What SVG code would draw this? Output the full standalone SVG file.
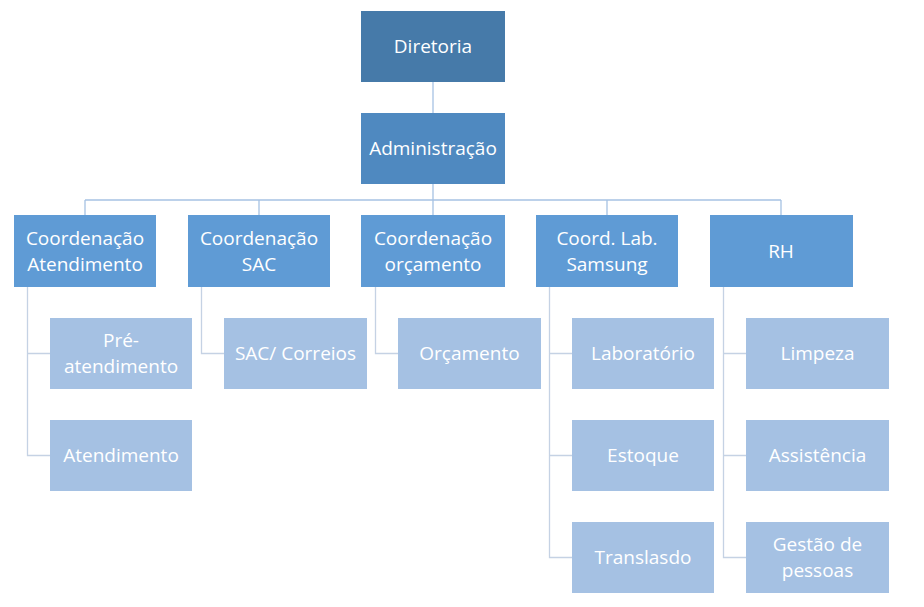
<svg xmlns="http://www.w3.org/2000/svg" width="924" height="607" viewBox="0 0 924 607">
<style>
.t{font-family:"Open Sans","Noto Sans",sans-serif;font-size:19px;fill:#ffffff;text-anchor:middle}
.l0{fill:#467AA9}
.l1{fill:#4F89C0}
.l2{fill:#5F9BD5}
.l3{fill:#A5C1E3}
.c1{stroke:#A6C2E3;stroke-width:1.3;fill:none}
.c2{stroke:#C5D2E4;stroke-width:1.3;fill:none}
</style>
<rect width="924" height="607" fill="#ffffff"/>
<g id="connectors">
<path class="c1" d="M433 82V113"/>
<path class="c1" d="M433 184V200M85 200H781M85 200V215M259 200V215M433 200V215M607 200V215M781 200V215"/>
<path class="c2" d="M27.5 287V455.5H50M27.5 353.5H50"/>
<path class="c2" d="M201.5 287V353.5H224"/>
<path class="c2" d="M375.5 287V353.5H398"/>
<path class="c2" d="M549.5 287V557.5H572M549.5 353.5H572M549.5 455.5H572"/>
<path class="c2" d="M723.5 287V557.5H746M723.5 353.5H746M723.5 455.5H746"/>
</g>
<g id="diretoria"><rect class="l0" x="361" y="11" width="144" height="71"/><text class="t" x="433" y="53">Diretoria</text></g>
<g id="administracao"><rect class="l1" x="361" y="113" width="144" height="71"/><text class="t" x="433" y="155">Administração</text></g>
<g id="coord-atendimento"><rect class="l2" x="14" y="215" width="142" height="72"/><text class="t" x="85" y="245">Coordenação</text><text class="t" x="85" y="271">Atendimento</text></g>
<g id="coord-sac"><rect class="l2" x="188" y="215" width="142" height="72"/><text class="t" x="259" y="245">Coordenação</text><text class="t" x="259" y="271">SAC</text></g>
<g id="coord-orcamento"><rect class="l2" x="361" y="215" width="144" height="72"/><text class="t" x="433" y="245">Coordenação</text><text class="t" x="433" y="271">orçamento</text></g>
<g id="coord-lab"><rect class="l2" x="536" y="215" width="142" height="72"/><text class="t" x="607" y="245">Coord. Lab.</text><text class="t" x="607" y="271">Samsung</text></g>
<g id="rh"><rect class="l2" x="710" y="215" width="143" height="72"/><text class="t" x="781" y="258">RH</text></g>
<g id="pre-atendimento"><rect class="l3" x="50" y="318" width="142" height="71"/><text class="t" x="121" y="347">Pré-</text><text class="t" x="121" y="373">atendimento</text></g>
<g id="atendimento"><rect class="l3" x="50" y="420" width="142" height="71"/><text class="t" x="121" y="462">Atendimento</text></g>
<g id="sac-correios"><rect class="l3" x="224" y="318" width="143" height="71"/><text class="t" x="295.5" y="360">SAC/ Correios</text></g>
<g id="orcamento"><rect class="l3" x="398" y="318" width="143" height="71"/><text class="t" x="469.5" y="360">Orçamento</text></g>
<g id="laboratorio"><rect class="l3" x="572" y="318" width="142" height="71"/><text class="t" x="643" y="360">Laboratório</text></g>
<g id="estoque"><rect class="l3" x="572" y="420" width="142" height="71"/><text class="t" x="643" y="462">Estoque</text></g>
<g id="translasdo"><rect class="l3" x="572" y="522" width="142" height="71"/><text class="t" x="643" y="564">Translasdo</text></g>
<g id="limpeza"><rect class="l3" x="746" y="318" width="143" height="71"/><text class="t" x="817.5" y="360">Limpeza</text></g>
<g id="assistencia"><rect class="l3" x="746" y="420" width="143" height="71"/><text class="t" x="817.5" y="462">Assistência</text></g>
<g id="gestao-pessoas"><rect class="l3" x="746" y="522" width="143" height="71"/><text class="t" x="817.5" y="551">Gestão de</text><text class="t" x="817.5" y="577">pessoas</text></g>
</svg>
